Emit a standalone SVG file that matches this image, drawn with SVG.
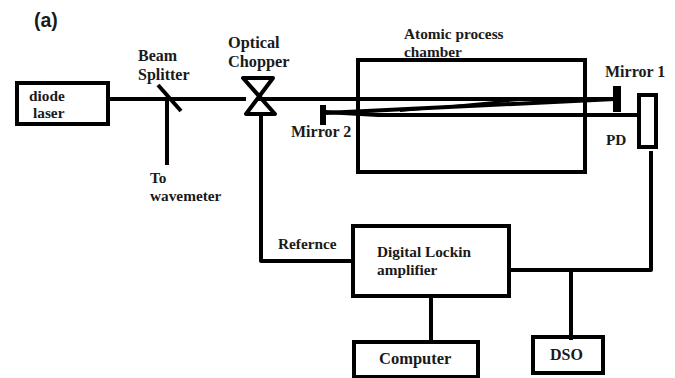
<svg xmlns="http://www.w3.org/2000/svg" width="675" height="378" viewBox="0 0 675 378">
<style>
.s{fill:none;stroke:#000;stroke-width:4}
.c{fill:none;stroke:#000;stroke-width:4;stroke-linejoin:round}
text{font-family:"Liberation Serif","Times New Roman",serif;font-weight:bold;fill:#1a1a1a;font-size:15.300px}
.l{font-size:16px}
</style>
<rect width="675" height="378" fill="#fff"/>
<text x="34" y="27" style="font-family:'Liberation Sans',Arial,sans-serif;font-size:19.500px">(a)</text>
<g id="connectors">
<path class="c" d="M108 99H246M258 99H615"/>
<path class="c" d="M158 85L181 111"/>
<path class="c" d="M167 99V165"/>
<path class="c" d="M261 114V261H353"/>
<path class="c" d="M509 270H651V151"/>
<path class="c" d="M571 270V340"/>
<path class="c" d="M431 296V342"/>
<path class="c" d="M325 113L615 99"/>
<path class="c" d="M325 112L378 115H638"/>
<path fill="#000" d="M400 112L525 100.500H500L400 110Z"/>
</g>
<g id="diode-laser"><rect class="s" x="17" y="83" width="91" height="41"/><text x="29" y="101">diode</text><text x="33" y="118">laser</text></g>
<g id="beam-splitter"><text class="l" x="138" y="61">Beam</text><text class="l" x="138" y="80">Splitter</text></g>
<g id="wavemeter"><text x="150" y="183">To</text><text x="150" y="201">wavemeter</text></g>
<g id="optical-chopper"><path class="c" d="M243 78H273L246 114H275Z"/><text class="l" x="228" y="48" style="font-size:16.300px">Optical</text><text class="l" x="228" y="67" style="font-size:16.300px">Chopper</text></g>
<g id="chamber"><rect class="s" x="358" y="60" width="227" height="112"/><text x="404" y="39">Atomic process</text><text x="404" y="57">chamber</text></g>
<g id="mirror-1"><rect x="613" y="86" width="8" height="26" fill="#000"/><text class="l" x="605" y="77">Mirror 1</text></g>
<g id="mirror-2"><rect x="320" y="105" width="6" height="20" fill="#000"/><text class="l" x="291" y="137">Mirror 2</text></g>
<g id="pd"><rect class="s" x="639" y="95" width="17" height="52"/><text x="606" y="145">PD</text></g>
<g id="lockin"><rect class="s" x="353" y="226" width="156" height="70"/><text x="377" y="257">Digital Lockin</text><text x="377" y="275">amplifier</text></g>
<text x="278" y="249">Refernce</text>
<g id="computer"><rect class="s" x="354" y="342" width="124" height="35"/><text x="379" y="364" style="font-size:16.500px">Computer</text></g>
<g id="dso"><rect class="s" x="533" y="337" width="70" height="36"/><text class="l" x="550" y="360">DSO</text></g>
</svg>
